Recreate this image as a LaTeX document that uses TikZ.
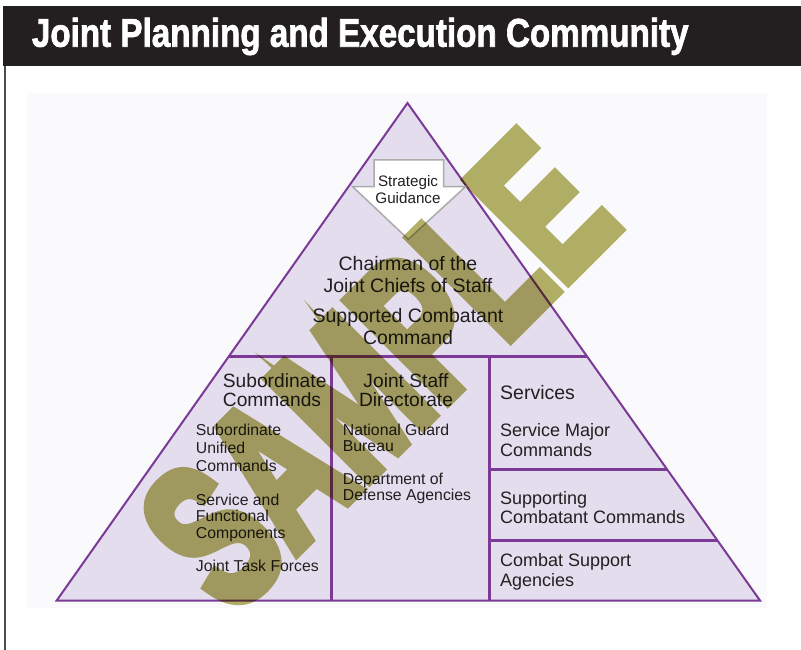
\documentclass[tikz,border=0pt]{standalone}
\usepackage{fontspec}
\setmainfont{Liberation Sans}
\newfontface\wmface[FakeBold=6]{Liberation Sans Bold}
\newfontface\titleface[FakeBold=2]{Liberation Sans Bold}
\definecolor{purp}{HTML}{7B3A96}
\definecolor{lav}{HTML}{E3DDEE}
\definecolor{txt}{HTML}{231F20}
\definecolor{olive}{HTML}{B4B166}
\definecolor{arrgray}{HTML}{ABABAB}
\definecolor{bgfaint}{HTML}{FAFAFC}
\tikzset{
  lbl/.style={inner sep=0pt, text=txt},
  big/.style={lbl, font=\fontsize{19.5}{22}\selectfont},
  mid/.style={lbl, font=\fontsize{18}{20}\selectfont},
  small/.style={lbl, font=\fontsize{15.8}{17}\selectfont},
  edge/.style={draw=purp, line width=2pt, line join=miter},
  divider/.style={draw=purp, line width=2.8pt},
}
\begin{document}
\begin{tikzpicture}[x=1pt,y=-1pt]
\useasboundingbox (0,0) rectangle (801,650);
% faint background panel and frame
\fill[bgfaint] (27,93) rectangle (767,608);
\fill[txt] (3,6) rectangle (801,66);
\draw[black!70, line width=1.8pt] (5,66) -- (5,650);
\node[anchor=base west, inner sep=0pt, text=white] (title) at (31.7,46.7)
  {\scalebox{0.83}[1]{\fontsize{40}{40}\titleface Joint Planning and Execution Community}};
% pyramid
\coordinate (apex) at (407.5,103);
\coordinate (bl) at (56.7,600.5);
\coordinate (br) at (760,600.5);
\fill[lav] (apex) -- (bl) -- (br) -- cycle;
\path (apex) -- (bl) coordinate[pos=0.51] (h1l);
\path (apex) -- (br) coordinate[pos=0.51] (h1r);
\path (apex) -- (br) coordinate[pos=0.7363] (h2r);
\path (apex) -- (br) coordinate[pos=0.879] (h3r);
\coordinate (v1t) at (331.3,356.7);
\coordinate (v1b) at (331.3,600.5);
\coordinate (v2t) at (489.3,356.7);
\coordinate (v2b) at (489.3,600.5);
\draw[divider] (h1l) -- (h1r);
\draw[divider] (v1t) -- (v1b);
\draw[divider] (v2t) -- (v2b);
\draw[divider] (v2t |- h2r) -- (h2r);
\draw[divider] (v2t |- h3r) -- (h3r);
\draw[edge] (apex) -- (bl) -- (br) -- cycle;
% strategic guidance arrow
\draw[fill=white, draw=arrgray, line width=1.5pt, line join=miter]
  (374,160) -- (443.5,160) -- (443.5,186.7) -- (465.5,186.7) -- (408.3,239.3)
  -- (352.7,186.7) -- (374,186.7) -- cycle;
\node[lbl, font=\fontsize{15.2}{17}\selectfont, anchor=base] (sg1) at (408,186.7) {Strategic};
\node[lbl, font=\fontsize{15.2}{17}\selectfont, anchor=base] (sg2) at (408,204) {Guidance};
% top tier
\node[big, anchor=base] (c1) at (408,270.7) {Chairman of the};
\node[big, anchor=base] (c2) at (408,292.7) {Joint Chiefs of Staff};
\node[big, anchor=base] (s1) at (408,322.3) {Supported Combatant};
\node[big, anchor=base] (s2) at (408,344.3) {Command};
% left column
\node[lbl, font=\fontsize{19.2}{21}\selectfont, anchor=base west] (sc1) at (222.7,387) {Subordinate};
\node[lbl, font=\fontsize{19.2}{21}\selectfont, anchor=base west] (sc2) at (222.7,406.7) {Commands};
\node[small, anchor=base west] (su1) at (195.7,435.7) {Subordinate};
\node[small, anchor=base west] (su2) at (195.7,453.5) {Unified};
\node[small, anchor=base west] (su3) at (195.7,471.3) {Commands};
\node[small, anchor=base west] (sf1) at (195.7,505) {Service and};
\node[small, anchor=base west] (sf2) at (195.7,521.5) {Functional};
\node[small, anchor=base west] (sf3) at (195.7,538.3) {Components};
\node[small, anchor=base west] (jtf) at (195.7,571.7) {Joint Task Forces};
% middle column
\node[lbl, font=\fontsize{19.2}{21}\selectfont, anchor=base] (js1) at (406,387) {Joint Staff};
\node[lbl, font=\fontsize{19.2}{21}\selectfont, anchor=base] (js2) at (406,406.7) {Directorate};
\node[small, anchor=base west] (ng1) at (342.7,435.7) {National Guard};
\node[small, anchor=base west] (ng2) at (342.7,451.7) {Bureau};
\node[small, anchor=base west] (dd1) at (342.7,484) {Department of};
\node[small, anchor=base west] (dd2) at (342.7,500) {Defense Agencies};
% right column
\node[big, anchor=base west] (sv) at (500,399.3) {Services};
\node[mid, anchor=base west] (sm1) at (500,436.7) {Service Major};
\node[mid, anchor=base west] (sm2) at (500,456) {Commands};
\node[mid, anchor=base west] (sp1) at (500,504) {Supporting};
\node[mid, anchor=base west] (sp2) at (500,523.3) {Combatant Commands};
\node[mid, anchor=base west] (cs1) at (500,566.7) {Combat Support};
\node[mid, anchor=base west] (cs2) at (500,586) {Agencies};
% watermark
\begin{scope}[blend mode=multiply]
\begin{scope}[transparency group]
\node[rotate=45, inner sep=0pt, text=olive] (wm) at (377,371)
  {\scalebox{0.65}[1]{\fontsize{205}{205}\wmface SAMPLE}};
\end{scope}
\end{scope}
\end{tikzpicture}
\end{document}
